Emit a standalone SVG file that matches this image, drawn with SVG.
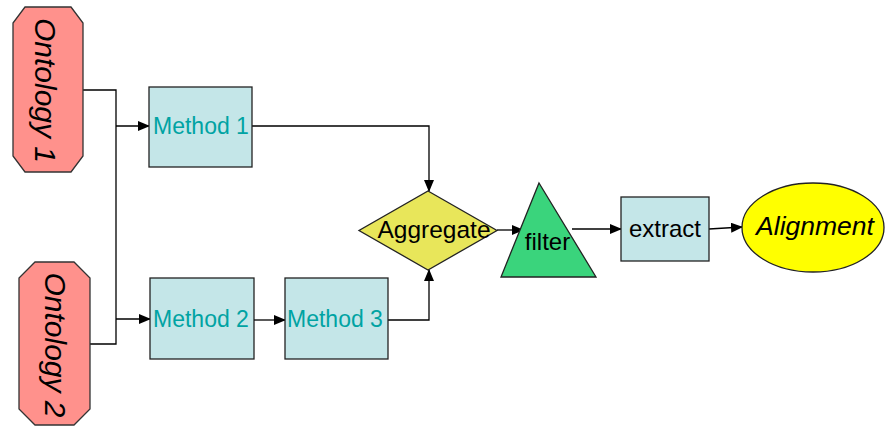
<svg xmlns="http://www.w3.org/2000/svg" width="885" height="426" viewBox="0 0 885 426">
<style>
.onto{fill:#FF918C;stroke:#333;stroke-width:1.3}
.box{fill:#C4E6E8;stroke:#222;stroke-width:1.3}
.t{font-family:"Liberation Sans",Arial,sans-serif;fill:#000}
.teal{fill:#00A3A3}
.con{fill:none;stroke:#000;stroke-width:1.3}
</style>
<defs>
<marker id="ah" markerWidth="12" markerHeight="10" refX="11" refY="5" orient="auto" markerUnits="userSpaceOnUse">
<path d="M0,0 L12,5 L0,10 Z" fill="#000"/>
</marker>
</defs>
<g id="connectors">
<path class="con" d="M83,90 H116 V344 H90"/>
<path class="con" d="M116,126 H149" marker-end="url(#ah)"/>
<path class="con" d="M116,319 H150" marker-end="url(#ah)"/>
<path class="con" d="M254,320 H285" marker-end="url(#ah)"/>
<path class="con" d="M252,126 H429 V191" marker-end="url(#ah)"/>
<path class="con" d="M388,320 H429 V270" marker-end="url(#ah)"/>
<path class="con" d="M497,230 H523" marker-end="url(#ah)"/>
<path class="con" d="M572,229 H621" marker-end="url(#ah)"/>
<path class="con" d="M709,229 L742,227" marker-end="url(#ah)"/>
</g>
<g id="ontology1">
<polygon class="onto" points="25,7 71,7 83,23 83,156 71,172 25,172 13,156 13,23"/>
<text class="t" font-size="30" font-style="italic" text-anchor="middle" transform="translate(35,90.5) rotate(90)">Ontology 1</text>
</g>
<g id="ontology2">
<polygon class="onto" points="35,262 74,262 90,278 90,409 74,425 35,425 19,409 19,278"/>
<text class="t" font-size="30" font-style="italic" text-anchor="middle" transform="translate(45,345) rotate(90)">Ontology 2</text>
</g>
<g id="method1">
<rect class="box" x="149" y="87" width="103" height="80"/>
<text class="t teal" x="153" y="134" font-size="23">Method 1</text>
</g>
<g id="method2">
<rect class="box" x="150" y="278" width="104" height="81"/>
<text class="t teal" x="153" y="327" font-size="23">Method 2</text>
</g>
<g id="method3">
<rect class="box" x="285" y="278" width="103" height="81"/>
<text class="t teal" x="287" y="327" font-size="23">Method 3</text>
</g>
<g id="aggregate">
<polygon points="428,191 497,230.5 428,270 359,230.5" fill="#E8E65A" stroke="#222" stroke-width="1.3"/>
<text class="t" x="434" y="238" font-size="24.5" text-anchor="middle">Aggregate</text>
</g>
<g id="filter">
<polygon points="539,183 596,277 501,277" fill="#3AD47C" stroke="#222" stroke-width="1.3"/>
<text class="t" x="547.5" y="250" font-size="24" text-anchor="middle">filter</text>
</g>
<g id="extract">
<rect class="box" x="621" y="197" width="88" height="64"/>
<text class="t" x="665" y="237" font-size="24" text-anchor="middle">extract</text>
</g>
<g id="alignment">
<ellipse cx="813" cy="227.5" rx="71" ry="44.5" fill="#FFFF00" stroke="#222" stroke-width="1.3"/>
<text class="t" x="815" y="235" font-size="26.5" font-style="italic" text-anchor="middle">Alignment</text>
</g>
</svg>
